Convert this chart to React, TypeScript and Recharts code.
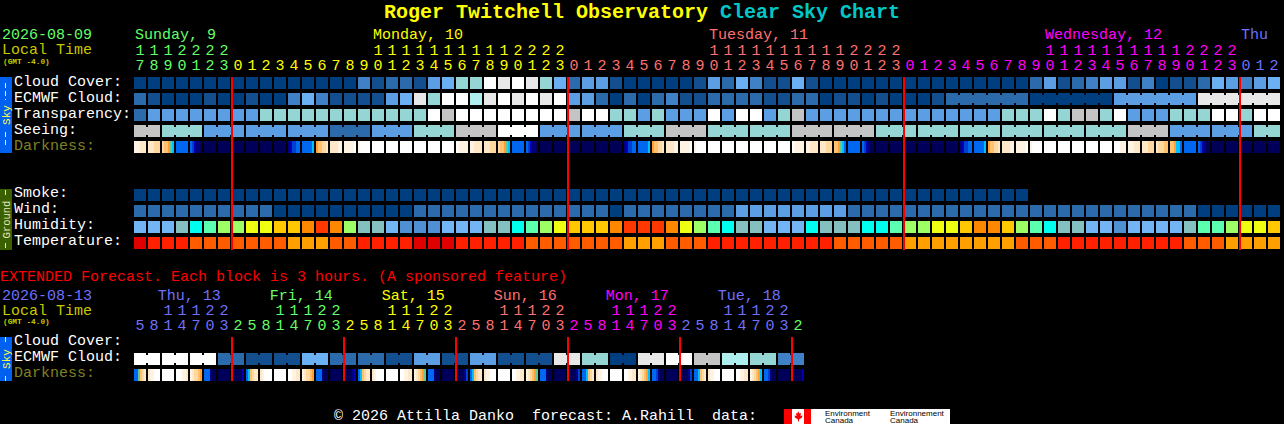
import { ScatterChart, Scatter, XAxis, YAxis } from "recharts"

// block levels (0 = dark blue ... 10 = white)
const cloudCover = [0,0,0,0,0,0,0,0,0,0,0,0,0,0,0,0,3,1,2,2,1,4,5,6,6,10,9,10,9,6,5,2,4,4,1,0,0,0,0,0,1,4,2,5,3,1,1,5,1,0,0,0,0,0,0,0,0,0,0,0,0,0,0,0,2,4,1,2,3,4,4,1,3,0,1,1,2,5,4,3,4,5]
const ecmwfCloud = [2,1,0,0,0,1,0,0,1,0,0,3,5,3,1,1,1,1,4,5,9,6,10,10,7,9,10,9,10,9,10,4,4,2,0,2,0,2,3,1,1,2,2,2,2,1,1,2,2,0,1,1,0,1,0,0,0,1,2,2,2,2,2,2,0,0,0,0,0,0,4,4,4,4,4,4,9,9,9,9,9,9]
const ecmwfBlocks = [1,1,1,1,1,1,1,1,1,1,1,1,1,1,1,1,1,1,1,1,1,1,1,1,1,1,1,1,1,1,1,1,1,1,1,1,1,1,1,1,1,1,1,1,1,1,1,1,1,1,1,1,1,1,1,1,1,1,6,6,6,6]
const transparency = [2,4,4,4,4,4,4,4,4,6,6,6,6,6,6,6,6,6,6,6,6,10,8,10,10,10,10,10,10,10,10,8,10,10,6,6,4,6,4,4,4,10,4,10,10,4,6,8,4,4,4,4,4,4,4,4,4,4,4,4,4,4,6,6,6,10,6,8,8,6,10,4,4,4,6,6,6,10,10,6,10,10]
const seeing = [8,6,4,4,4,2,4,6,8,10,4,4,6,8,6,6,8,8,6,6,6,6,6,6,8,4,4,6]
const seeingBlocks = [2,3,3,3,3,3,3,3,3,3,3,3,3,3,3,3,3,3,3,3,3,3,3,3,3,3,3,2]
const smoke = [0,0,0,0,0,0,0,0,0,0,0,0,0,0,0,0,0,0,0,0,0,0,0,0,0,0,0,0,0,0,0,0,0,0,0,0,0,0,0,0,0,0,0,0,0,0,0,0,0,0,0,0,0,0,0,0,0,0,0,0,0,0,0,0]
const wind = [2,2,2,2,2,2,2,2,2,2,0,0,0,0,0,0,0,0,0,0,2,2,2,2,2,2,2,2,2,2,2,2,2,2,0,2,2,2,2,2,2,2,2,4,4,4,4,4,4,4,4,2,2,2,2,2,2,2,2,2,2,2,2,2,2,2,2,2,2,2,2,2,2,2,2,2,0,0,0,0,0,0]
const humidity = [0,0,0,2,3,4,5,5,6,6,7,7,8,9,8,5,2,2,0,1,1,1,0,0,0,2,2,3,4,5,6,7,7,7,8,9,9,9,8,6,5,4,3,2,2,0,0,0,3,2,2,2,3,3,4,5,5,6,6,7,8,8,7,5,4,3,2,2,0,0,1,0,0,0,0,2,4,4,5,6,6,7]
const temperature = [0,1,1,1,2,2,2,2,2,2,2,3,3,3,2,2,1,1,1,1,0,0,0,1,1,1,1,1,2,2,2,2,2,2,2,3,3,3,2,2,2,1,1,1,1,1,1,1,1,1,2,2,2,2,2,3,3,3,3,3,3,3,3,2,2,2,1,1,1,1,1,1,1,1,1,2,2,2,3,3,3,3]
const darkness = [
  [11,11,11,10,10,10],[10,10,10,9,9,9],[9,8,8,7,6,5],[4],[4,3,2,1,1,0],[0],[0],[0],[0],[0],[0],[1,2,3,3,4,4],[4,4,4,4,4,5],[7,8,8,9,9,10],[10,10,10,10,11,11],[11,11,11,11,11,12],[11,12,12,12,12,12],
  [12],[12],[12],[12],[12],[12],[12,11,11,11,11,11],[11,11,10,10,10,10],[10,10,10,9,9,9],[9,8,8,7,6,5],[4],[4,3,2,1,1,0],[0],[0],[0],[0],[0],[0],[1,2,3,3,4,4],[4,4,4,4,4,5],[7,8,8,9,9,10],[10,10,10,10,11,11],[11,11,11,11,11,12],[11,12,12,12,12,12],
  [12],[12],[12],[12],[12],[12],[12,11,11,11,11,11],[11,11,10,10,10,10],[10,10,10,9,9,9],[8,8,7,6,5,4],[4],[4,3,2,1,0,0],[0],[0],[0],[0],[0],[0],[1,2,3,3,4,4],[4,4,4,4,4,5],[7,8,8,9,9,10],[10,10,10,10,11,11],[11,11,11,11,11,12],[11,12,12,12,12,12],
  [12],[12],[12],[12],[12],[12,12,12,11,11,11],[11,11,11,10,10,10],[10,10,10,9,9,9],[10,9,9,9,8,8],[8,8,7,5,5,4],[4],[4,3,2,1,0,0],[0],[0],[0],[0],[0],
]
const extCloud = [10,10,10,10,10,10,2,2,1,1,1,1,5,5,2,2,2,2,1,1,4,4,1,1,4,4,1,1,1,1,9,9,6,6,0,0,9,9,10,10,8,8,7,7,6,6,3,3]
const extBlocks = [2,2,2,2,2,2,2,2,2,2,2,2,2,2,2,2,2,2,2,2,2,2,2,2]
const extDarkness = [
  [4,4,6,8,9,10],[10,11,11,12,12,12],[12],[12,12,12,11,11,10],[11,10,9,9,8,7],[4,4,4,1,0,0],[0],[0,0,0,0,0,2],
  [4,5,8,9,10,10],[10,11,12,12,12,12],[12],[12,12,11,11,10,10],[11,10,9,9,8,7],[4,4,4,1,0,0],[0],[0,0,0,0,1,2],
  [4,5,8,9,10,10],[10,11,12,12,12,12],[12],[12,12,11,11,10,10],[11,10,9,8,7,6],[4,4,4,1,0,0],[0],[0,0,0,0,1,3],
  [4,5,8,9,10,10],[10,11,11,12,12,12],[12],[12,12,11,11,10,10],[11,10,9,8,7,6],[4,4,4,1,0,0],[0],[0,0,0,0,1,3],
  [4,4,5,8,9,10],[10,11,11,12,12,12],[12],[12,12,11,11,10,10],[11,10,9,8,7,5],[4,4,3,1,0,0],[0],[0,0,0,0,1,3],
  [4,4,5,8,9,10],[10,11,11,12,12,12],[12],[12,12,11,11,10,10],[11,10,9,8,7,5],[4,4,3,1,0,0],[0],[0,0,0,0,0,2],
]

const hours = [17,18,19,20,21,22,23,0,1,2,3,4,5,6,7,8,9,10,11,12,13,14,15,16,17,18,19,20,21,22,23,0,1,2,3,4,5,6,7,8,9,10,11,12,13,14,15,16,17,18,19,20,21,22,23,0,1,2,3,4,5,6,7,8,9,10,11,12,13,14,15,16,17,18,19,20,21,22,23,0,1,2]
const extHours = [5,8,11,14,17,20,23,2,5,8,11,14,17,20,23,2,5,8,11,14,17,20,23,2,5,8,11,14,17,20,23,2,5,8,11,14,17,20,23,2,5,8,11,14,17,20,23,2]
const dayNames = ["Sunday, 9", "Monday, 10", "Tuesday, 11", "Wednesday, 12", "Thu"]
const dayStarts = [0, 7, 31, 55, 79]
const dayLabelCols = [0, 17, 41, 65, 79]
const dayColors = ["#66ff66", "#ffff00", "#ff7070", "#ff00ff", "#7070ff"]
const extDayNames = ["Thu, 13", "Fri, 14", "Sat, 15", "Sun, 16", "Mon, 17", "Tue, 18"]
const extDayStarts = [0, 7, 15, 23, 31, 39, 47]
const extDayLabelCols = [1.7, 9.7, 17.7, 25.7, 33.7, 41.7]
const extDayColors = ["#7070ff", "#66ff66", "#ffff00", "#ff7070", "#ff00ff", "#7070ff", "#66ff66"]
const midnights = [7, 31, 55, 79]
const extMidnights = [7, 15, 23, 31, 39, 47]

const skyLabels = ["Cloud Cover:", "ECMWF Cloud:", "Transparency:", "Seeing:", "Darkness:"]
const groundLabels = ["Smoke:", "Wind:", "Humidity:", "Temperature:"]
const extLabels = ["Cloud Cover:", "ECMWF Cloud:", "Darkness:"]

const skyPalette = ["#003f7f", "#134f8f", "#2b6bab", "#4080c6", "#5c9ee3", "#6bb0f2", "#95d5d3", "#afeeee", "#c4c4c4", "#e8e8e8", "#ffffff"]
const humidityPalette = ["#72b4f4", "#4f8fd4", "#85c0c0", "#00ffee", "#5cffb0", "#9cff66", "#eeff11", "#ffc800", "#ff8800", "#ff3800"]
const tempPalette = ["#e00000", "#ff2000", "#ff5c00", "#ffa000"]
const darkPalette = ["#000058", "#000080", "#0000b0", "#0040d0", "#0068f0", "#00c0ff", "#60c8a0", "#ffa030", "#ffc070", "#ffd8a0", "#ffe8c8", "#fff4e4", "#ffffff"]

const FONT = "'Liberation Mono', monospace"
const COL_W = 14
const ROW_H = 16
const CELL = 12
// column 0 starts at pixel 134, row 0 at pixel 77
const xDomain = [-134 / COL_W, 1150 / COL_W]
const yDomain = [-77 / ROW_H, 347 / ROW_H]
const rowOf = (py: number) => (py - 77) / ROW_H
const colOf = (px: number) => (px - 134) / COL_W

function cells(values: number[], row: number, palette: string[], blocks?: number[]) {
  const ends = new Set<number>()
  let pos = 0
  ;(blocks || values.map(() => 1)).forEach((b) => {
    pos += b
    ends.add(pos - 1)
  })
  return values.map((v, i) => ({ x: i, y: row, fill: palette[v], join: !ends.has(i) && i < values.length - 1 }))
}

function blockValues(values: number[], blocks: number[]) {
  const out: number[] = []
  values.forEach((v, i) => {
    for (let k = 0; k < blocks[i]; k++) out.push(v)
  })
  return out
}

const Cell = (props: any) => {
  const { cx, cy, payload } = props
  return (
    <g>
      <rect x={cx} y={cy} width={CELL} height={CELL} fill={payload.fill} />
      {payload.join && <rect x={cx + CELL} y={cy + 2} width={COL_W - CELL} height={CELL - 4} fill={payload.fill} />}
    </g>
  )
}

// twilight blocks are split in thin strips
const DarkCell = (props: any) => {
  const { cx, cy, payload } = props
  const w = CELL / payload.strips.length
  return (
    <g>
      {payload.strips.map((s: number, i: number) => (
        <rect key={i} x={cx + i * w} y={cy} width={w + 0.02} height={CELL} fill={darkPalette[s]} />
      ))}
    </g>
  )
}

// midnight marker, drawn after the blocks so it lies on top of them
const MidnightMark = (props: any) => {
  const { cx, cy, payload } = props
  return <rect x={cx - 1} y={cy} width={2} height={payload.h * ROW_H} fill="#ff0000" />
}

const TextMark = (props: any) => {
  const { cx, cy, payload } = props
  return (
    <text
      x={cx}
      y={cy + 5}
      fill={payload.color}
      fontFamily={FONT}
      fontSize={15}
      textAnchor={payload.anchor || "start"}
      style={{ whiteSpace: "pre" }}
    >
      {payload.text}
    </text>
  )
}

function colorAt(i: number, starts: number[], colors: string[]) {
  let c = colors[0]
  starts.forEach((s, k) => {
    if (i >= s) c = colors[k]
  })
  return c
}

function hourMarks(list: number[], starts: number[], colors: string[], tensPy: number, onesPy: number) {
  const marks: any[] = []
  list.forEach((h, i) => {
    const color = colorAt(i, starts, colors)
    const x = i + CELL / 2 / COL_W
    marks.push({ x, y: rowOf(onesPy), text: String(h % 10), color, anchor: "middle" })
    if (h >= 10) marks.push({ x, y: rowOf(tensPy), text: String(Math.floor(h / 10)), color, anchor: "middle" })
  })
  return marks
}

const rowLabel = (text: string, py: number) => ({
  x: colOf(14),
  y: rowOf(py),
  text,
  color: text === "Darkness:" ? "#808020" : "#ffffff",
})

const rows = [
  cells(cloudCover, 0, skyPalette),
  cells(ecmwfCloud, 1, skyPalette, ecmwfBlocks),
  cells(transparency, 2, skyPalette),
  cells(blockValues(seeing, seeingBlocks), 3, skyPalette, seeingBlocks),
  cells(smoke, 7, skyPalette),
  cells(wind, 8, skyPalette),
  cells(humidity, 9, humidityPalette),
  cells(temperature, 10, tempPalette),
  cells(extCloud, rowOf(353), skyPalette, extBlocks),
]

const darkRows = [
  darkness.map((strips, i) => ({ x: i, y: 4, strips })),
  extDarkness.map((strips, i) => ({ x: i, y: rowOf(369), strips })),
]

const midnightMarks = [
  ...midnights.map((m) => ({ x: m, y: 0, h: rowOf(250) })),
  ...extMidnights.map((m) => ({ x: m, y: rowOf(337), h: 44 / ROW_H })),
]

const labels = [
  ...hourMarks(hours, dayStarts, dayColors, 50, 65),
  ...hourMarks(extHours, extDayStarts, extDayColors, 310, 325),
  ...dayNames.map((text, i) => ({ x: dayLabelCols[i] + 0.07, y: rowOf(34), text, color: dayColors[i] })),
  ...extDayNames.map((text, i) => ({ x: extDayLabelCols[i], y: rowOf(295), text, color: extDayColors[i] })),
  ...skyLabels.map((t, i) => rowLabel(t, 81 + i * ROW_H)),
  ...groundLabels.map((t, i) => rowLabel(t, 192 + i * ROW_H)),
  ...extLabels.map((t, i) => rowLabel(t, 340 + i * ROW_H)),
  { x: colOf(2), y: rowOf(34), text: "2026-08-09", color: "#66ff66" },
  { x: colOf(2), y: rowOf(49), text: "Local Time", color: "#c8c800" },
  { x: colOf(2), y: rowOf(295), text: "2026-08-13", color: "#7070ff" },
  { x: colOf(2), y: rowOf(310), text: "Local Time", color: "#c8c800" },
  { x: colOf(0), y: rowOf(276), text: "EXTENDED Forecast. Each block is 3 hours. (A sponsored feature)", color: "#ff0000" },
  { x: colOf(334), y: rowOf(415), text: "© 2026 Attilla Danko  forecast: A.Rahill  data:", color: "#ffffff" },
]

const SideBar = ({ y, h, fill, color, text, size, dashes }: any) => (
  <g>
    <rect x={0} y={y} width={12} height={h} fill={fill} />
    {dashes.map((d: number[], i: number) => (
      <line key={i} x1={5.5} x2={5.5} y1={d[0]} y2={d[1]} stroke={color} strokeDasharray="5 3" />
    ))}
    <text
      transform={`translate(9.5 ${y + h / 2}) rotate(-90)`}
      fill={color}
      fontFamily={FONT}
      fontSize={size}
      textAnchor="middle"
    >
      {text}
    </text>
  </g>
)

const smallText = { fontFamily: "'Liberation Sans', sans-serif", fontSize: 8, fill: "#000" }

export default function App() {
  return (
    <div style={{ position: "fixed", left: 0, top: 0, width: 1284, height: 424, background: "#000" }}>
      <ScatterChart width={1284} height={424} margin={{ top: 0, right: 0, bottom: 0, left: 0 }}>
        <XAxis type="number" dataKey="x" domain={xDomain} allowDataOverflow hide />
        <YAxis type="number" dataKey="y" domain={yDomain} allowDataOverflow reversed hide />

        <text x={384} y={18} fontFamily={FONT} fontSize={20} fontWeight="bold" fill="#ffff00">
          Roger Twitchell Observatory
        </text>
        <text x={720} y={18} fontFamily={FONT} fontSize={20} fontWeight="bold" fill="#00c8c8">
          Clear Sky Chart
        </text>
        <text x={3} y={64} fontFamily={FONT} fontSize={7.8} fontWeight="bold" fill="#c8c800">(GMT -4.0)</text>
        <text x={3} y={324} fontFamily={FONT} fontSize={7.8} fontWeight="bold" fill="#c8c800">(GMT -4.0)</text>

        <SideBar y={77} h={76} fill="#0060f0" color="#ffff40" text="Sky" size={11} dashes={[[83, 100], [132, 148]]} />
        <SideBar y={189} h={61} fill="#3a6000" color="#e8e8c0" text="Ground" size={10.5} dashes={[[190, 197], [243, 250]]} />
        <SideBar y={337} h={44} fill="#0060f0" color="#ffff40" text="Sky" size={11} dashes={[[337, 342], [376, 381]]} />

        {rows.map((data, i) => (
          <Scatter key={i} data={data} shape={Cell} isAnimationActive={false} />
        ))}
        {darkRows.map((data, i) => (
          <Scatter key={i} data={data} shape={DarkCell} isAnimationActive={false} />
        ))}
        <Scatter data={midnightMarks} shape={MidnightMark} isAnimationActive={false} />
        <Scatter data={labels} shape={TextMark} isAnimationActive={false} />

        {/* Environment Canada logo */}
        <rect x={784} y={409} width={166} height={15} fill="#ffffff" />
        <rect x={784} y={409} width={8} height={15} fill="#ff0000" />
        <rect x={804} y={409} width={7} height={15} fill="#ff0000" />
        <path d="M798 411 l1.5 2.5 1.5 -0.5 -0.5 3 2 -0.5 -0.5 2 -3 2 0 2 -1 0 0 -2 -3 -2 -0.5 -2 2 0.5 -0.5 -3 1.5 0.5 z" fill="#ff0000" />
        <text x={825} y={416} {...smallText}>Environment</text>
        <text x={825} y={423} {...smallText}>Canada</text>
        <text x={890} y={416} {...smallText}>Environnement</text>
        <text x={890} y={423} {...smallText}>Canada</text>
      </ScatterChart>
    </div>
  )
}
